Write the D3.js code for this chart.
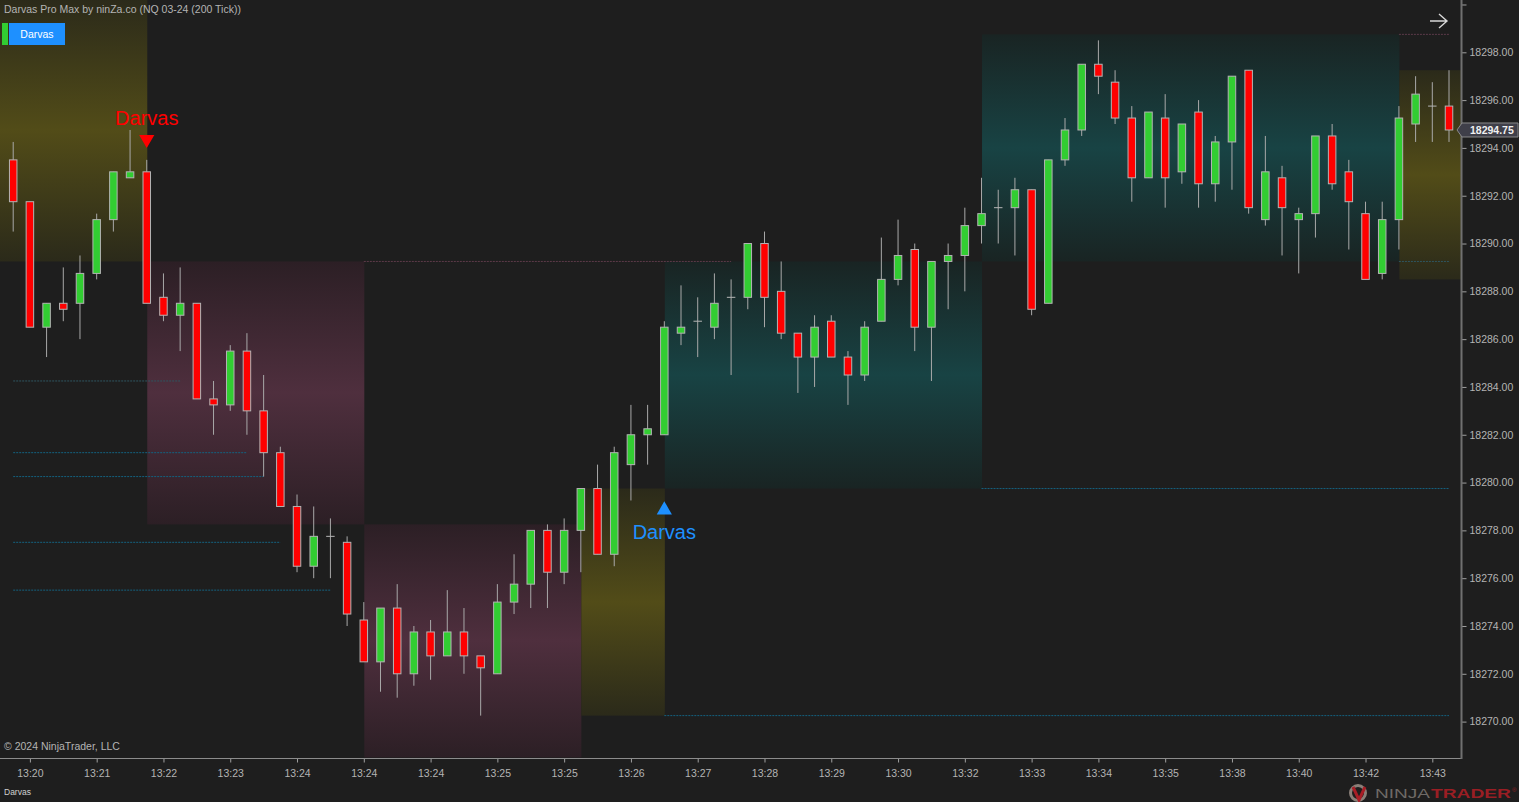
<!DOCTYPE html>
<html>
<head>
<meta charset="utf-8">
<title>Darvas Pro Max</title>
<script src="https://cdn.jsdelivr.net/npm/d3@7/dist/d3.min.js"></script>
<style>
  html, body { margin: 0; padding: 0; background: #1e1e1e; overflow: hidden; }
  svg { display: block; font-family: "Liberation Sans", Arial, sans-serif; }
</style>
</head>
<body>
<svg id="chart" width="1519" height="802"></svg>
<script>
// candle values, one entry per bar (prices are 18200 + value)
const opens  = [93.5,91.75,86.5,87.5,87.5,88.75,91,92.75,93,87.75,87,87.5,83.5,83.25,85.5,83,81.25,79,76.5,77.75,77.5,74.25,72.5,74.75,72,73.75,72.75,73.75,72.75,72,75,75.75,78,76.25,78,79.75,77,80.75,82,82,86.25,86.75,86.5,87.75,87.75,90,88,86.25,85.25,86.75,85.25,84.5,86.75,88.5,89.75,86.5,89.25,89.5,90.75,91.5,91.5,92.25,87.5,93.5,94.75,97.5,96.75,95.25,92.75,95.25,93,95.5,92.5,94.25,97.25,91,92.75,91,91.25,94.5,93,91.25,88.75,91,95,95.75,95.75];
const highs  = [94.25,91.75,87.5,89,89.5,91.25,93,94.75,93.5,88.75,89,87.5,84.25,85.75,86.25,84.5,81.5,79.5,79,78.5,77.75,75,74.75,75.75,74,74.25,75.5,74.75,72.75,75.75,77,78,78.25,78.5,79.75,80.75,81.5,83.25,83.25,86.75,88.25,87.75,88.75,88.5,90,90.5,89.25,86.25,87,87,85.5,86.75,90.25,91,90,89.25,90,91.5,92.75,92.25,92.75,92.25,93.5,95.25,97.5,98.5,97.25,95.75,95.5,96.25,95,96,94.5,97,97.25,94.5,93.25,91.5,94.5,95,93.5,91.75,91.75,95.75,97,96.75,97.25];
const lows   = [90.5,86.5,85.25,86.75,86,88.5,90.5,92.75,87.5,86.75,85.5,83.5,82,83,82,80.25,79,76.25,76,76,74,72.5,71.25,71,71.5,71.75,72.75,72,70.25,72,74.5,74.75,74.75,75.75,76.25,77,76.5,79.25,80.75,82,85.75,85.25,86,84.5,87.25,86.5,86,83.75,84,85.25,83.25,84.25,86.75,88.25,85.5,84.25,87.25,88,90,90,89.5,87,87.5,93.25,94.5,96.25,95,91.75,92.75,91.5,92.5,91.5,91.75,92.25,91.25,90.75,89.5,88.75,90.25,92.25,89.75,88.5,88.5,89.75,94.25,94.25,94.25];
const closes = [91.75,86.5,87.5,87.25,88.75,91,93,93,87.5,87,87.5,83.5,83.25,85.5,83,81.25,79,76.5,77.75,77.75,74.5,72.5,74.75,72,73.75,72.75,73.75,72.75,72.25,75,75.75,78,76.25,78,79.75,77,81.25,82,82.25,86.5,86.5,86.75,87.5,87.75,90,87.75,86.25,85.25,86.5,85.25,84.5,86.5,88.5,89.5,86.5,89.25,89.5,90.75,91.25,91.5,92.25,87.25,93.5,94.75,97.5,97,95.25,92.75,95.5,92.75,95,92.5,94.25,97,91.5,93,91.5,91.25,94.5,92.5,91.75,88.5,91,95.25,96.25,95.75,94.75];

// darvas boxes: start bar, price top, price bottom, colour group (prices are 18000 + value)
const zoneStart  = [-1, 8, 21, 34, 39, 58, 83];
const zoneEnd    = [8, 21, 34, 39, 58, 83, 87.3];
const zoneTop    = [300.25, 289.25, 278.25, 279.75, 289.25, 298.75, 297.25];
const zoneBottom = [289.25, 278.25, 268.5, 270.25, 279.75, 289.25, 288.5];
const zoneKind   = ["olive", "pink", "pink", "olive", "teal", "teal", "olive"];

// dotted levels
const levelStart = [0, 0, 0, 0, 0, 21, 58, 39, 83, 83];
const levelEnd   = [10, 14, 15, 16, 19, 43, 86, 86, 86, 86];
const levelPrice = [284.25, 281.25, 280.25, 277.5, 275.5, 289.25, 279.75, 270.25, 298.75, 289.25];
const levelKind  = ["dim", "blue", "blue", "blue", "blue", "pink", "blue", "blue", "pink", "dim"];

const timeLabels = ["13:20","13:21","13:22","13:23","13:24","13:24","13:24","13:25","13:25","13:26","13:27","13:28","13:29","13:30","13:32","13:33","13:34","13:35","13:38","13:40","13:42","13:43"];
const priceTicks = [300,298,296,294,292,290,288,286,284,282,280,278,276,274,272,270];
const lastPrice = 294.75;

const zoneColors = {
    olive: { edge: "#2b2a1a", mid: "#524c18" },
    pink:  { edge: "#2c1f25", mid: "#4f2f3e" },
    teal:  { edge: "#192423", mid: "#184344" }
};
const levelColors = { blue: "#14617f", dim: "#2f5560", pink: "#5c3a49" };

const svg = d3.select("#chart");
const x = d3.scaleLinear().domain([0, 86]).range([13.2, 1449]);
const y = d3.scaleLinear().domain([270, 298]).range([721.6, 52.3]);
const yc = v => y(200 + v); // candle arrays sit 200 below the axis values
const plotRight = 1461, plotBottom = 758;

svg.append("rect").attr("width", 1519).attr("height", 802).attr("fill", "#1e1e1e");

// gradient per zone colour
const defs = svg.append("defs");
Object.entries(zoneColors).forEach(([name, c]) => {
    let g = defs.append("linearGradient").attr("id", "zone-" + name)
        .attr("x1", 0).attr("y1", 0).attr("x2", 0).attr("y2", 1);
    g.append("stop").attr("offset", "0%").attr("stop-color", c.edge);
    g.append("stop").attr("offset", "50%").attr("stop-color", c.mid);
    g.append("stop").attr("offset", "100%").attr("stop-color", c.edge);
});
defs.append("clipPath").attr("id", "plot").append("rect")
    .attr("width", plotRight).attr("height", plotBottom);

const plot = svg.append("g").attr("clip-path", "url(#plot)");

plot.selectAll("rect.zone").data(zoneKind).join("rect")
    .attr("class", "zone")
    .attr("x", (d, i) => x(zoneStart[i]) + 0.5)
    .attr("width", (d, i) => x(zoneEnd[i]) - x(zoneStart[i]))
    .attr("y", (d, i) => y(zoneTop[i]))
    .attr("height", (d, i) => y(zoneBottom[i]) - y(zoneTop[i]))
    .attr("fill", d => `url(#zone-${d})`);

plot.selectAll("line.level").data(levelKind).join("line")
    .attr("class", "level")
    .attr("x1", (d, i) => x(levelStart[i]))
    .attr("x2", (d, i) => x(levelEnd[i]))
    .attr("y1", (d, i) => y(levelPrice[i]))
    .attr("y2", (d, i) => y(levelPrice[i]))
    .attr("stroke", d => levelColors[d])
    .attr("stroke-width", 1)
    .attr("stroke-dasharray", "2 1");

// candles
const candles = plot.selectAll("g.candle").data(closes).join("g").attr("class", "candle");
candles.append("line")
    .attr("x1", (d, i) => x(i)).attr("x2", (d, i) => x(i))
    .attr("y1", (d, i) => yc(highs[i])).attr("y2", (d, i) => yc(lows[i]))
    .attr("stroke", "#a9a9a9").attr("stroke-width", 1);
candles.append("rect")
    .attr("x", (d, i) => x(i) - 3.75)
    .attr("width", 7.5)
    .attr("y", (d, i) => yc(Math.max(opens[i], closes[i])))
    // dojis still need a body so the stroke shows as a dash
    .attr("height", (d, i) => Math.max(Math.abs(yc(opens[i]) - yc(closes[i])), 0.01))
    .attr("fill", (d, i) => closes[i] >= opens[i] ? "#32cd32" : "#ff0000")
    .attr("stroke", "#b4b4b4").attr("stroke-width", 1);

// darvas signals
plot.append("path")
    .attr("d", d3.symbol(d3.symbolTriangle, 100))
    .attr("transform", `translate(${x(8)},${y(294.36)}) rotate(180)`)
    .attr("fill", "#ff0000");
plot.append("text").attr("x", x(8)).attr("y", 125).attr("text-anchor", "middle")
    .attr("font-size", 20).attr("fill", "#ff0000").text("Darvas");
plot.append("path")
    .attr("d", d3.symbol(d3.symbolTriangle, 100))
    .attr("transform", `translate(${x(39)},${y(278.85)})`)
    .attr("fill", "#1e90ff");
plot.append("text").attr("x", x(39)).attr("y", 539).attr("text-anchor", "middle")
    .attr("font-size", 20).attr("fill", "#1e90ff").text("Darvas");

// axes
const priceAxis = d3.axisRight(y)
    .tickValues(priceTicks)
    .tickSize(5).tickPadding(3)
    .tickFormat(d => d === 300 ? "" : d3.format(".2f")(18000 + d));
const gy = svg.append("g").attr("transform", `translate(${plotRight + 0.5},0)`).call(priceAxis);

const timeAxis = d3.axisBottom(x)
    .tickValues(timeLabels.map((d, i) => 1 + i * 4))
    .tickSize(4).tickPadding(7)
    .tickFormat((d, i) => timeLabels[i]);
const gx = svg.append("g").attr("transform", `translate(0,${plotBottom + 0.5})`).call(timeAxis);

[gx, gy].forEach(g => {
    g.selectAll("text").attr("fill", "#b4b4b4").attr("font-size", 10.5)
        .attr("font-family", '"Liberation Sans", Arial, sans-serif');
    g.selectAll(".tick line").attr("stroke", "#a0a0a0");
    g.select(".domain").remove();
});
svg.append("line").attr("x1", 0).attr("x2", plotRight + 1).attr("y1", plotBottom + 0.5).attr("y2", plotBottom + 0.5)
    .attr("stroke", "#8c8c8c").attr("stroke-width", 1);
svg.append("line").attr("x1", plotRight + 0.5).attr("x2", plotRight + 0.5).attr("y1", 0).attr("y2", plotBottom + 1)
    .attr("stroke", "#707070").attr("stroke-width", 2);

// last price marker
const py = y(lastPrice);
svg.append("path")
    .attr("d", d3.line()([[1457, py], [1462, py - 7], [1518, py - 7], [1518, py + 7], [1462, py + 7]]) + "Z")
    .attr("fill", "#3f3f49").attr("stroke", "#8a8a8a").attr("stroke-width", 1);
svg.append("text").attr("x", 1470).attr("y", py + 4).attr("font-size", 10.5).attr("font-weight", "bold")
    .attr("fill", "#f0f0f0").text(d3.format(".2f")(18000 + lastPrice));

// header, button and footer text
svg.append("text").attr("x", 4).attr("y", 13).attr("font-size", 10.5).attr("fill", "#b4b4b4")
    .text("Darvas Pro Max by ninZa.co (NQ 03-24 (200 Tick))");
svg.append("rect").attr("x", 2).attr("y", 23).attr("width", 6).attr("height", 22).attr("fill", "#32cd32");
svg.append("rect").attr("x", 9).attr("y", 23).attr("width", 56).attr("height", 22).attr("fill", "#1e90ff");
svg.append("text").attr("x", 37).attr("y", 38).attr("text-anchor", "middle").attr("font-size", 10.5)
    .attr("fill", "#ffffff").text("Darvas");
svg.append("text").attr("x", 4).attr("y", 750).attr("font-size", 10.5).attr("fill", "#b4b4b4")
    .text("\u00a9 2024 NinjaTrader, LLC");
svg.append("text").attr("x", 4).attr("y", 795).attr("font-size", 8.5).attr("fill", "#d0d0d0").text("Darvas");

// arrow top right
svg.append("path").attr("d", "M1430 21H1447M1439 14L1447 21L1439 28")
    .attr("fill", "none").attr("stroke", "#d8d8d8").attr("stroke-width", 1.4);

// ninjatrader logo
svg.append("circle").attr("cx", 1358).attr("cy", 793).attr("r", 7.5)
    .attr("fill", "none").attr("stroke", "#8a7f78").attr("stroke-width", 3);
svg.append("path").attr("d", "M1353 787L1359 800L1365 787").attr("fill", "none")
    .attr("stroke", "#a81e26").attr("stroke-width", 3);
svg.append("text").attr("x", 1375).attr("y", 797.5).attr("font-size", 13)
    .attr("textLength", 55).attr("lengthAdjust", "spacingAndGlyphs").attr("fill", "#6e6a66").text("NINJA");
svg.append("text").attr("x", 1431).attr("y", 797.5).attr("font-size", 13).attr("font-weight", "bold")
    .attr("textLength", 80).attr("lengthAdjust", "spacingAndGlyphs").attr("fill", "#9a1e24").text("TRADER");
svg.append("text").attr("x", 1512).attr("y", 792).attr("font-size", 6).attr("fill", "#9a1e24").text("\u00ae");
</script>
</body>
</html>
